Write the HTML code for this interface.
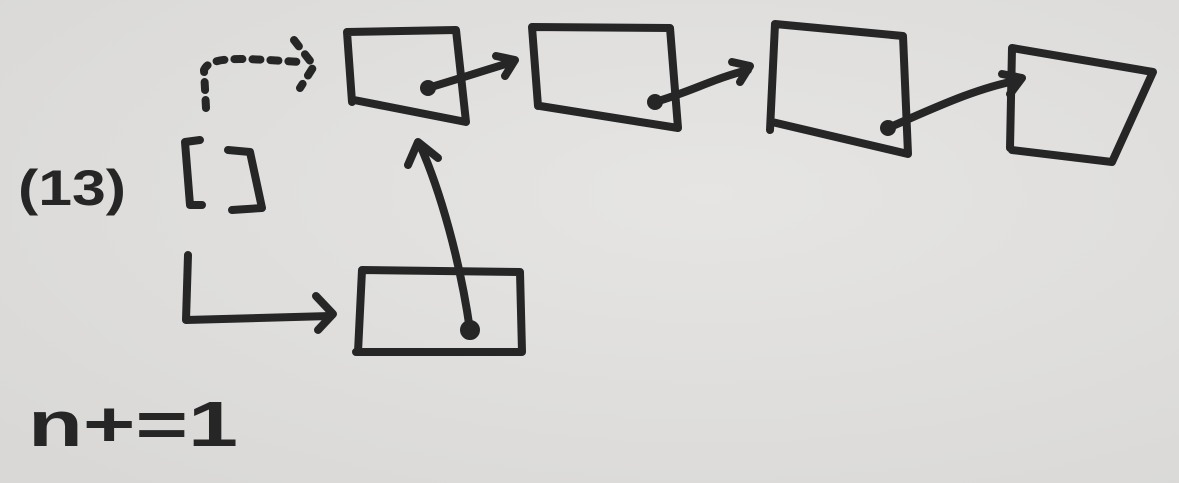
<!DOCTYPE html>
<html><head><meta charset="utf-8"><style>
html,body{margin:0;padding:0;width:1179px;height:483px;overflow:hidden;background:#e2e1df}
svg{display:block}
</style></head><body>
<svg width="1179" height="483" viewBox="0 0 1179 483">
<defs><radialGradient id="bg" cx="0.6" cy="0.4" r="0.8"><stop offset="0" stop-color="#e6e5e3"/><stop offset="1" stop-color="#d9d8d6"/></radialGradient></defs>
<rect width="1179" height="483" fill="url(#bg)"/>
<g fill="none" stroke="#262626" stroke-width="8" stroke-linecap="round" stroke-linejoin="round">
<path d="M352,102 L347,32 L456,30 L466,122 L354,100"/>
<path d="M538,106 L532,27 L670,28 L678,128 L540,106"/>
<path d="M770,130 L775,24 L903,36 L908,154 L772,122"/>
<path d="M1010,148 L1012,48 L1153,72 L1112,162 L1012,150"/>
<path d="M358,352 L362,270 L520,272 L522,352 L356,352"/>
<path d="M428,88 C455,80 480,72 512,62 M496,56 L515,60 L505,76"/>
<path d="M655,102 C690,92 715,78 748,70 M732,62 L750,66 L740,82"/>
<path d="M888,128 C930,110 975,88 1020,80 M1002,74 L1022,78 L1010,94"/>
<path d="M470,330 C460,260 440,190 420,145 M408,165 L418,142 L438,158"/>
<path d="M200,140 L185,142 L190,205 L202,205"/>
<path d="M228,150 L250,152 L262,208 L232,210"/>
<path d="M188,255 L186,320 L330,316 M316,296 L333,314 L318,330"/>
<path stroke-dasharray="8 10" d="M206,108 L204,70 C210,56 240,58 300,62 M294,40 L314,66 L300,88"/>
<circle cx="428" cy="88" r="4" fill="#262626"/>
<circle cx="655" cy="102" r="4" fill="#262626"/>
<circle cx="888" cy="128" r="4" fill="#262626"/>
<circle cx="470" cy="330" r="6" fill="#262626"/>
</g>
<text x="18" y="205" font-family="'Liberation Sans',sans-serif" font-weight="bold" font-size="50" fill="#262626" textLength="108" lengthAdjust="spacingAndGlyphs">(13)</text>
<text x="28" y="446" font-family="'Liberation Sans',sans-serif" font-weight="bold" font-size="64" fill="#262626" textLength="210" lengthAdjust="spacingAndGlyphs">n+=1</text>
</svg>
</body></html>
